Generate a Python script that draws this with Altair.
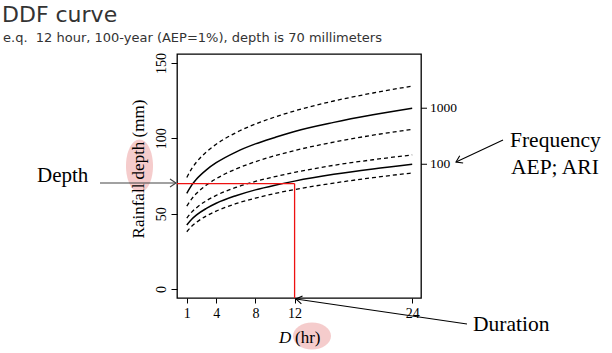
import altair as alt
import pandas as pd

# ---- data ----
durations = [1, 1.5, 2, 3, 4, 6, 8, 10, 12, 16, 20, 24]
aep1000_upper = [74, 79.9, 84.3, 91.0, 96.1, 103.7, 109.5, 114.2, 118.2, 124.8, 130.1, 134.7]
aep1000 = [63.5, 68.9, 73.0, 79.1, 83.8, 90.9, 96.3, 100.6, 104.6, 110.6, 115.6, 120.0]
aep1000_lower = [55, 59.8, 63.5, 69.0, 73.2, 79.6, 84.5, 88.5, 91.9, 97.5, 102.1, 106.0]
aep100_upper = [47, 51, 54, 58.6, 62.1, 67.4, 71.4, 74.6, 77.4, 82.1, 85.8, 89.0]
aep100 = [42.5, 46.3, 49.2, 53.5, 56.9, 61.9, 65.8, 68.9, 71.6, 76.1, 79.7, 82.8]
aep100_lower = [38, 41.6, 44.3, 48.5, 51.7, 56.6, 60.3, 63.4, 66.0, 70.3, 73.9, 77.0]

x_ticks = [1, 4, 8, 12, 24]
y_ticks = [0, 50, 100, 150]
freq_levels = [120.0, 82.8]
freq_labels = ["1000", "100"]
example_duration = [12]
example_depth = [70]

series = [
    ("1000 upper", aep1000_upper, "dashed"),
    ("1000", aep1000, "solid"),
    ("1000 lower", aep1000_lower, "dashed"),
    ("100 upper", aep100_upper, "dashed"),
    ("100", aep100, "solid"),
    ("100 lower", aep100_lower, "dashed"),
]
rows = []
for name, vals, style in series:
    for d, v in zip(durations, vals):
        rows.append({"D": d, "depth": v, "series": name, "style": style})
df = pd.DataFrame(rows)

W, H = 244, 244
SERIF = "Liberation Serif"
SANS = "DejaVu Sans"

x_scale = alt.Scale(domain=[0, 24.9], nice=False, zero=False)
y_scale = alt.Scale(domain=[-6, 156], nice=False, zero=False)

x_axis = alt.Axis(values=x_ticks, title=None, grid=False, domain=False,
                  tickSize=5, tickColor="black", labelColor="black",
                  labelFont=SERIF, labelFontSize=14, labelPadding=3, zindex=1)
y_axis = alt.Axis(values=y_ticks, title=None, grid=False, domain=False,
                  tickSize=6, tickColor="black", labelColor="black",
                  labelFont=SERIF, labelFontSize=14, labelAngle=270,
                  labelAlign="center", labelBaseline="alphabetic",
                  labelPadding=6, zindex=1)

base = alt.Chart(df)
enc = dict(
    x=alt.X("D:Q", scale=x_scale, axis=x_axis),
    y=alt.Y("depth:Q", scale=y_scale, axis=y_axis),
    detail="series:N",
)
solid = base.transform_filter(alt.datum.style == "solid").mark_line(
    color="black", strokeWidth=1.5, interpolate="monotone").encode(**enc)
dashed = base.transform_filter(alt.datum.style == "dashed").mark_line(
    color="black", strokeWidth=1.3, strokeDash=[4, 3], interpolate="monotone").encode(**enc)

ex = pd.DataFrame({"D": example_duration, "depth": example_depth})
red_h = alt.Chart(ex).mark_rule(color="#ee1111", strokeWidth=1.3).encode(
    x=alt.X("D:Q", scale=x_scale), x2=alt.value(0), y=alt.Y("depth:Q", scale=y_scale))
red_v = alt.Chart(ex).mark_rule(color="#ee1111", strokeWidth=1.3).encode(
    x=alt.X("D:Q", scale=x_scale), y=alt.Y("depth:Q", scale=y_scale), y2=alt.value(H))

freq_df = pd.DataFrame({"lvl": freq_levels, "lab": freq_labels})
freq_ticks = alt.Chart(freq_df).mark_rule(color="black", strokeWidth=1).encode(
    x=alt.value(W), x2=alt.value(W + 6), y=alt.Y("lvl:Q", scale=y_scale))
freq_text = alt.Chart(freq_df).mark_text(
    align="left", baseline="middle", font=SERIF, fontSize=13.5, color="black").encode(
    x=alt.value(W + 9), y=alt.Y("lvl:Q", scale=y_scale), text="lab:N")

one = pd.DataFrame({"k": [0]})


def txt(s, x, y, size, font=SERIF, align="left", baseline="alphabetic", color="black", **kw):
    return alt.Chart(one).mark_text(
        text=s, font=font, fontSize=size, align=align, baseline=baseline,
        color=color, **kw).encode(x=alt.value(x), y=alt.value(y))


def seg(x1, y1, x2, y2, color="black"):
    return alt.Chart(one).mark_rule(color=color, strokeWidth=1.1).encode(
        x=alt.value(x1), y=alt.value(y1), x2=alt.value(x2), y2=alt.value(y2))


CHEV = "M-1.5,-1L0,0L-1.5,1"


def head(x, y, ang, color="black"):
    return alt.Chart(one).mark_point(
        shape=CHEV, filled=False, color=color, strokeWidth=1.1, size=64,
        angle=ang, opacity=1).encode(x=alt.value(x), y=alt.value(y))


def ellipse_path(a, b):
    k = 0.5523
    return (f"M{a},0 C{a},{k*b} {k*a},{b} 0,{b} C{-k*a},{b} {-a},{k*b} {-a},0 "
            f"C{-a},{-k*b} {-k*a},{-b} 0,{-b} C{k*a},{-b} {a},{-k*b} {a},0 Z")


def ellipse(x, y, a, b, size):
    return alt.Chart(one).mark_point(
        shape=ellipse_path(a, b), filled=True, color="#f3c3c3", opacity=0.85,
        size=size, strokeWidth=0).encode(x=alt.value(x), y=alt.value(y))


layers = [
    ellipse(-37.5, 112, 0.51, 1.0, 2809),
    ellipse(135, 282, 1.0, 0.71, 1444),
    dashed, solid, red_h, red_v, freq_ticks, freq_text,
    txt("Rainfall depth (mm)", -38, 115, 17, align="center", baseline="middle", angle=270),
    txt("D", 102, 289, 17, fontStyle="italic"),
    txt("(hr)", 118, 289, 17),
    txt("DDF curve", -175, -32, 22, font=SANS, color="#333333"),
    txt("e.q.\u00a0 12 hour, 100-year (AEP=1%), depth is 70 millimeters", -174, -12, 13,
        font=SANS, color="#333333"),
    txt("Depth", -140, 128, 21),
    seg(-77, 129, -1, 129, color="#444444"),
    head(-1, 129, 0, color="#444444"),
    txt("Frequency", 333, 93, 21.5),
    txt("AEP; ARI", 334, 120, 21.5),
    seg(326, 86, 279, 108),
    head(279, 108, 154.9),
    txt("Duration", 296, 277, 21.5),
    seg(290, 270, 119, 245),
    head(119, 245, 188.3),
]

chart = alt.layer(*layers).properties(
    width=W, height=H,
    autosize=alt.AutoSizeParams(type="none"),
    padding={"left": 177, "top": 54, "right": 191, "bottom": 55},
    background="white",
).configure_view(stroke="black", strokeWidth=1.3)

chart.save("out.html", embed_options={"renderer": "svg", "actions": False})
